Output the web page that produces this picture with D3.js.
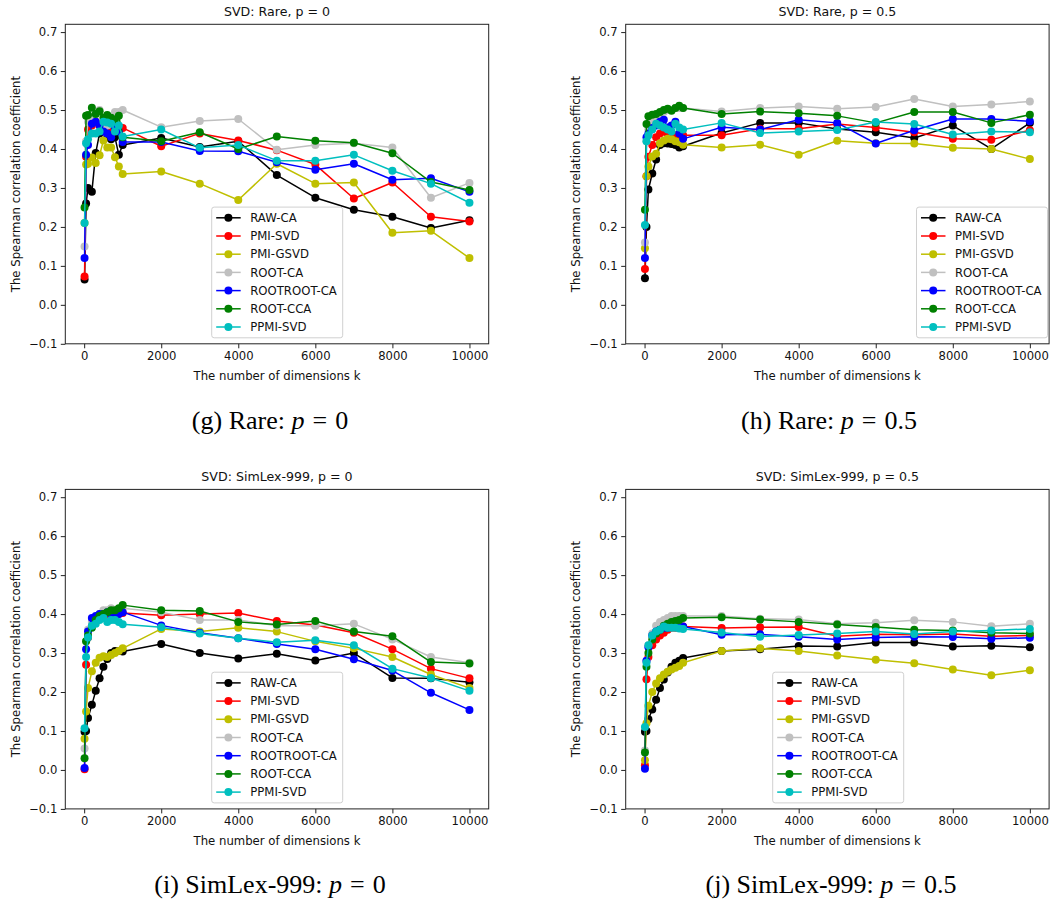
<!DOCTYPE html>
<html>
<head>
<meta charset="utf-8">
<script src="https://cdn.jsdelivr.net/npm/d3@7/dist/d3.min.js"></script>
<style>
  html, body { margin: 0; padding: 0; background: #fff; }
  svg { display: block; }
</style>
</head>
<body>
<svg id="chart" width="1057" height="904"></svg>
<script>
// ---------- data ----------
const dims = [10, 50, 100, 200, 300, 400, 500, 600, 700, 800, 900, 1000,
              2000, 3000, 4000, 5000, 6000, 7000, 8000, 9000, 10000];
const seriesNames = ["RAW-CA", "PMI-SVD", "PMI-GSVD", "ROOT-CA", "ROOTROOT-CA", "ROOT-CCA", "PPMI-SVD"];
const seriesColors = ["#000000", "#ff0000", "#bfbf00", "#c0c0c0", "#0000ff", "#008000", "#00bfbf"];
const xTicks = [0, 2000, 4000, 6000, 8000, 10000];
const yTicks = [-0.1, 0.0, 0.1, 0.2, 0.3, 0.4, 0.5, 0.6, 0.7];

// SVD: Rare, p = 0
const rareP0 = [
  [0.065, 0.26, 0.30, 0.29, 0.39, 0.44, 0.45, 0.43, 0.425, 0.43, 0.385, 0.41, 0.428, 0.405, 0.42, 0.333, 0.275, 0.244, 0.226, 0.197, 0.217],
  [0.073, 0.38, 0.45, 0.46, 0.47, 0.46, 0.455, 0.45, 0.44, 0.45, 0.455, 0.454, 0.407, 0.44, 0.422, 0.397, 0.36, 0.273, 0.314, 0.226, 0.214],
  [0.21, 0.36, 0.362, 0.378, 0.364, 0.384, 0.422, 0.404, 0.404, 0.379, 0.355, 0.336, 0.342, 0.311, 0.269, 0.362, 0.311, 0.314, 0.185, 0.19, 0.12],
  [0.15, 0.42, 0.47, 0.48, 0.49, 0.50, 0.45, 0.46, 0.48, 0.495, 0.495, 0.50, 0.456, 0.472, 0.477, 0.398, 0.41, 0.415, 0.404, 0.275, 0.313],
  [0.12, 0.385, 0.41, 0.465, 0.47, 0.46, 0.445, 0.44, 0.43, 0.455, 0.445, 0.418, 0.418, 0.395, 0.394, 0.366, 0.347, 0.362, 0.321, 0.325, 0.29],
  [0.25, 0.485, 0.487, 0.506, 0.49, 0.497, 0.48, 0.487, 0.48, 0.475, 0.485, 0.43, 0.42, 0.443, 0.40, 0.432, 0.421, 0.416, 0.389, 0.315, 0.295],
  [0.21, 0.415, 0.425, 0.44, 0.44, 0.445, 0.47, 0.468, 0.465, 0.445, 0.46, 0.432, 0.45, 0.403, 0.41, 0.37, 0.37, 0.385, 0.344, 0.311, 0.262]
];
// SVD: Rare, p = 0.5
const rareP05 = [
  [0.068, 0.20, 0.296, 0.337, 0.373, 0.41, 0.415, 0.414, 0.413, 0.41, 0.404, 0.407, 0.441, 0.467, 0.467, 0.451, 0.443, 0.428, 0.46, 0.40, 0.467],
  [0.092, 0.33, 0.38, 0.41, 0.43, 0.44, 0.445, 0.44, 0.44, 0.435, 0.43, 0.435, 0.435, 0.452, 0.452, 0.464, 0.455, 0.443, 0.426, 0.424, 0.448],
  [0.145, 0.33, 0.355, 0.381, 0.388, 0.415, 0.422, 0.426, 0.425, 0.42, 0.417, 0.411, 0.404, 0.411, 0.385, 0.421, 0.415, 0.414, 0.403, 0.40, 0.374],
  [0.16, 0.42, 0.45, 0.47, 0.48, 0.49, 0.495, 0.50, 0.50, 0.505, 0.505, 0.505, 0.496, 0.505, 0.509, 0.503, 0.508, 0.528, 0.509, 0.514, 0.522],
  [0.12, 0.43, 0.44, 0.454, 0.46, 0.47, 0.475, 0.455, 0.46, 0.47, 0.44, 0.426, 0.456, 0.45, 0.475, 0.467, 0.414, 0.448, 0.477, 0.477, 0.471],
  [0.244, 0.464, 0.484, 0.488, 0.49, 0.495, 0.50, 0.503, 0.498, 0.505, 0.511, 0.505, 0.49, 0.496, 0.492, 0.485, 0.467, 0.495, 0.495, 0.467, 0.488],
  [0.205, 0.42, 0.435, 0.45, 0.465, 0.46, 0.455, 0.45, 0.445, 0.465, 0.455, 0.45, 0.467, 0.441, 0.445, 0.449, 0.469, 0.464, 0.437, 0.445, 0.443]
];
// SVD: SimLex-999, p = 0
const simlexP0 = [
  [0.098, 0.10, 0.133, 0.167, 0.203, 0.235, 0.265, 0.285, 0.30, 0.305, 0.305, 0.304, 0.323, 0.30, 0.286, 0.298, 0.281, 0.30, 0.236, 0.235, 0.225],
  [0.002, 0.27, 0.34, 0.37, 0.38, 0.39, 0.395, 0.40, 0.40, 0.40, 0.40, 0.403, 0.397, 0.40, 0.403, 0.382, 0.372, 0.352, 0.31, 0.26, 0.235],
  [0.08, 0.15, 0.21, 0.253, 0.275, 0.288, 0.292, 0.29, 0.295, 0.30, 0.305, 0.312, 0.362, 0.355, 0.365, 0.355, 0.33, 0.312, 0.29, 0.245, 0.21],
  [0.055, 0.33, 0.36, 0.38, 0.39, 0.40, 0.41, 0.41, 0.415, 0.41, 0.41, 0.415, 0.405, 0.385, 0.385, 0.37, 0.37, 0.375, 0.335, 0.29, 0.275],
  [0.005, 0.31, 0.355, 0.39, 0.395, 0.40, 0.40, 0.405, 0.40, 0.40, 0.40, 0.405, 0.371, 0.352, 0.338, 0.323, 0.31, 0.284, 0.255, 0.198, 0.154],
  [0.03, 0.33, 0.345, 0.365, 0.385, 0.395, 0.40, 0.405, 0.41, 0.41, 0.415, 0.423, 0.41, 0.408, 0.38, 0.373, 0.382, 0.355, 0.343, 0.277, 0.273],
  [0.107, 0.29, 0.34, 0.37, 0.375, 0.385, 0.39, 0.38, 0.385, 0.385, 0.38, 0.374, 0.366, 0.35, 0.338, 0.328, 0.333, 0.32, 0.26, 0.236, 0.203]
];
// SVD: SimLex-999, p = 0.5
const simlexP05 = [
  [0.098, 0.10, 0.13, 0.155, 0.18, 0.21, 0.232, 0.25, 0.265, 0.275, 0.28, 0.287, 0.305, 0.31, 0.318, 0.317, 0.327, 0.327, 0.317, 0.319, 0.315],
  [0.012, 0.233, 0.29, 0.32, 0.335, 0.345, 0.352, 0.36, 0.365, 0.365, 0.368, 0.368, 0.364, 0.366, 0.367, 0.343, 0.348, 0.347, 0.349, 0.343, 0.345],
  [0.025, 0.12, 0.165, 0.20, 0.222, 0.235, 0.245, 0.252, 0.258, 0.262, 0.267, 0.275, 0.305, 0.312, 0.305, 0.294, 0.283, 0.274, 0.258, 0.243, 0.256],
  [0.05, 0.28, 0.32, 0.35, 0.37, 0.38, 0.385, 0.39, 0.395, 0.395, 0.395, 0.395, 0.395, 0.388, 0.386, 0.375, 0.378, 0.384, 0.38, 0.369, 0.375],
  [0.003, 0.28, 0.315, 0.345, 0.355, 0.36, 0.365, 0.365, 0.368, 0.368, 0.368, 0.368, 0.347, 0.348, 0.342, 0.335, 0.34, 0.342, 0.341, 0.337, 0.339],
  [0.045, 0.265, 0.30, 0.335, 0.35, 0.36, 0.37, 0.375, 0.38, 0.382, 0.385, 0.39, 0.392, 0.386, 0.38, 0.373, 0.367, 0.36, 0.358, 0.352, 0.35],
  [0.11, 0.275, 0.32, 0.345, 0.355, 0.36, 0.368, 0.365, 0.365, 0.365, 0.363, 0.362, 0.353, 0.342, 0.346, 0.35, 0.355, 0.349, 0.355, 0.358, 0.362]
];

const panelTitles = ["SVD: Rare, p = 0", "SVD: Rare, p = 0.5", "SVD: SimLex-999, p = 0", "SVD: SimLex-999, p = 0.5"];
const captionLabels = ["(g) Rare: ", "(h) Rare: ", "(i) SimLex-999: ", "(j) SimLex-999: "];
const captionValues = ["0", "0.5", "0", "0.5"];
const panelData = [rareP0, rareP05, simlexP0, simlexP05];

// ---------- layout ----------
const W = 423.4, H = 319.5;
const panels = [
  { left: 65.3,  top: 24.3,  legendX: 211.7, capX: 270, capY: 429 },
  { left: 625.7, top: 24.3,  legendX: 916.5, capX: 829, capY: 429 },
  { left: 65.3,  top: 489.4, legendX: 211.7, capX: 270, capY: 893 },
  { left: 625.7, top: 489.4, legendX: 772.7, capX: 831, capY: 893 }
];
const FONT = "'DejaVu Sans', sans-serif";
const TICK_FS = 11.6, LABEL_FS = 11.7, TITLE_FS = 12.6, LEGEND_FS = 11.7;

const svg = d3.select("#chart");

const xExt = d3.extent(dims);
const xPad = (xExt[1] - xExt[0]) * 0.05;

panels.forEach((p, pi) => {
  const g = svg.append("g").attr("transform", `translate(${p.left},${p.top})`);
  const x = d3.scaleLinear().domain([xExt[0] - xPad, xExt[1] + xPad]).range([0, W]);
  const y = d3.scaleLinear().domain([-0.1, 0.72]).range([H, 0]);

  // axes
  const fmtY = d => (d < 0 ? "\u2212" : "") + Math.abs(d).toFixed(1);
  const xAxis = g.append("g").attr("transform", `translate(0,${H})`)
    .call(d3.axisBottom(x).tickValues(xTicks).tickSize(4.5).tickPadding(3.5).tickFormat(d3.format("d")));
  const yAxis = g.append("g")
    .call(d3.axisLeft(y).tickValues(yTicks).tickSize(4.5).tickPadding(3.5).tickFormat(fmtY));
  [xAxis, yAxis].forEach(a => {
    a.select(".domain").remove();
    a.selectAll("text").attr("font-family", FONT).attr("font-size", TICK_FS).attr("fill", "#111");
    a.selectAll("line").attr("stroke", "#222").attr("stroke-width", 1);
  });

  // series
  const data = panelData[pi];
  const line = d3.line().x((d, i) => x(dims[i])).y(d => y(d));
  data.forEach((vals, si) => {
    const sg = g.append("g");
    sg.append("path").datum(vals)
      .attr("d", line).attr("fill", "none")
      .attr("stroke", seriesColors[si]).attr("stroke-width", 1.5)
      .attr("stroke-linejoin", "round");
    sg.selectAll("circle").data(vals).enter().append("circle")
      .attr("cx", (d, i) => x(dims[i])).attr("cy", d => y(d))
      .attr("r", 4).attr("fill", seriesColors[si]);
  });

  // spines
  g.append("rect").attr("x", 0).attr("y", 0).attr("width", W).attr("height", H)
    .attr("fill", "none").attr("stroke", "#222").attr("stroke-width", 1);

  // title
  g.append("text").attr("x", W / 2).attr("y", -8.3)
    .attr("text-anchor", "middle").attr("font-family", FONT).attr("font-size", TITLE_FS).attr("fill", "#111")
    .text(panelTitles[pi]);

  // axis labels
  g.append("text").attr("x", W / 2).attr("y", H + 35.8)
    .attr("text-anchor", "middle").attr("font-family", FONT).attr("font-size", LABEL_FS).attr("fill", "#111")
    .text("The number of dimensions k");
  g.append("text").attr("transform", `translate(-45.3,${H / 2}) rotate(-90)`)
    .attr("text-anchor", "middle").attr("font-family", FONT).attr("font-size", LABEL_FS).attr("fill", "#111")
    .text("The Spearman correlation coefficient");

  // legend
  const lgW = 131, lgH = 130.7;
  const lg = svg.append("g").attr("transform", `translate(${p.legendX},${p.top + H - 6 - lgH})`);
  lg.append("rect").attr("width", lgW).attr("height", lgH).attr("rx", 2.5)
    .attr("fill", "#fff").attr("fill-opacity", 0.8).attr("stroke", "#d0d0d0").attr("stroke-width", 1);
  seriesNames.forEach((name, si) => {
    const ey = 10.7 + si * 18.2;
    lg.append("line").attr("x1", 4.5).attr("x2", 29).attr("y1", ey).attr("y2", ey)
      .attr("stroke", seriesColors[si]).attr("stroke-width", 1.5);
    lg.append("circle").attr("cx", 16.7).attr("cy", ey).attr("r", 4).attr("fill", seriesColors[si]);
    lg.append("text").attr("x", 38.5).attr("y", ey + 4.2)
      .attr("font-family", FONT).attr("font-size", LEGEND_FS).attr("fill", "#111").text(name);
  });

  // caption
  const cap = svg.append("text").attr("x", p.capX).attr("y", p.capY)
    .attr("text-anchor", "middle").attr("font-family", "'Liberation Serif', 'DejaVu Serif', serif")
    .attr("font-size", 26).attr("fill", "#000");
  cap.append("tspan").text(captionLabels[pi]);
  cap.append("tspan").attr("font-style", "italic").text("p");
  cap.append("tspan").attr("dx", 8).text("=");
  cap.append("tspan").attr("dx", 8).text(captionValues[pi]);
});
</script>
</body>
</html>
